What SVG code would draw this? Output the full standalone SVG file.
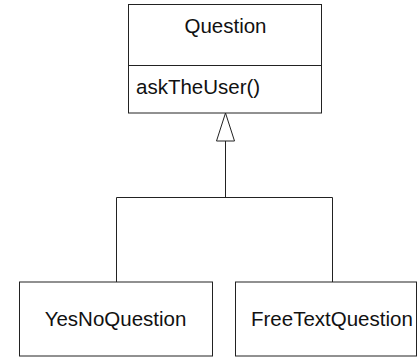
<svg xmlns="http://www.w3.org/2000/svg" width="417" height="357" viewBox="0 0 417 357">
<style>
.box{fill:#fff;stroke:#222;stroke-width:1}
.ln{fill:none;stroke:#222;stroke-width:1}
text{font-family:"Liberation Sans",Arial,sans-serif;font-size:20.5px;fill:#111}
</style>
<rect width="417" height="357" fill="#fff"/>
<g id="connectors">
<path class="ln" d="M225.5 141V197.5M116.5 282V197.5H332.5V282"/>
<polygon class="box" points="225.5,113 216.5,141 234.5,141"/>
</g>
<g id="Question">
<rect class="box" x="128.5" y="4.5" width="193" height="108.5"/>
<line class="ln" x1="128.5" y1="65.5" x2="321.5" y2="65.5"/>
<text x="225.5" y="33" text-anchor="middle">Question</text>
<text x="136" y="94">askTheUser()</text>
</g>
<g id="YesNoQuestion">
<rect class="box" x="19.5" y="282" width="193" height="74"/>
<text x="115.5" y="326" text-anchor="middle">YesNoQuestion</text>
</g>
<g id="FreeTextQuestion">
<rect class="box" x="235.5" y="282" width="181" height="74"/>
<text x="251" y="326">FreeTextQuestion</text>
</g>
</svg>
